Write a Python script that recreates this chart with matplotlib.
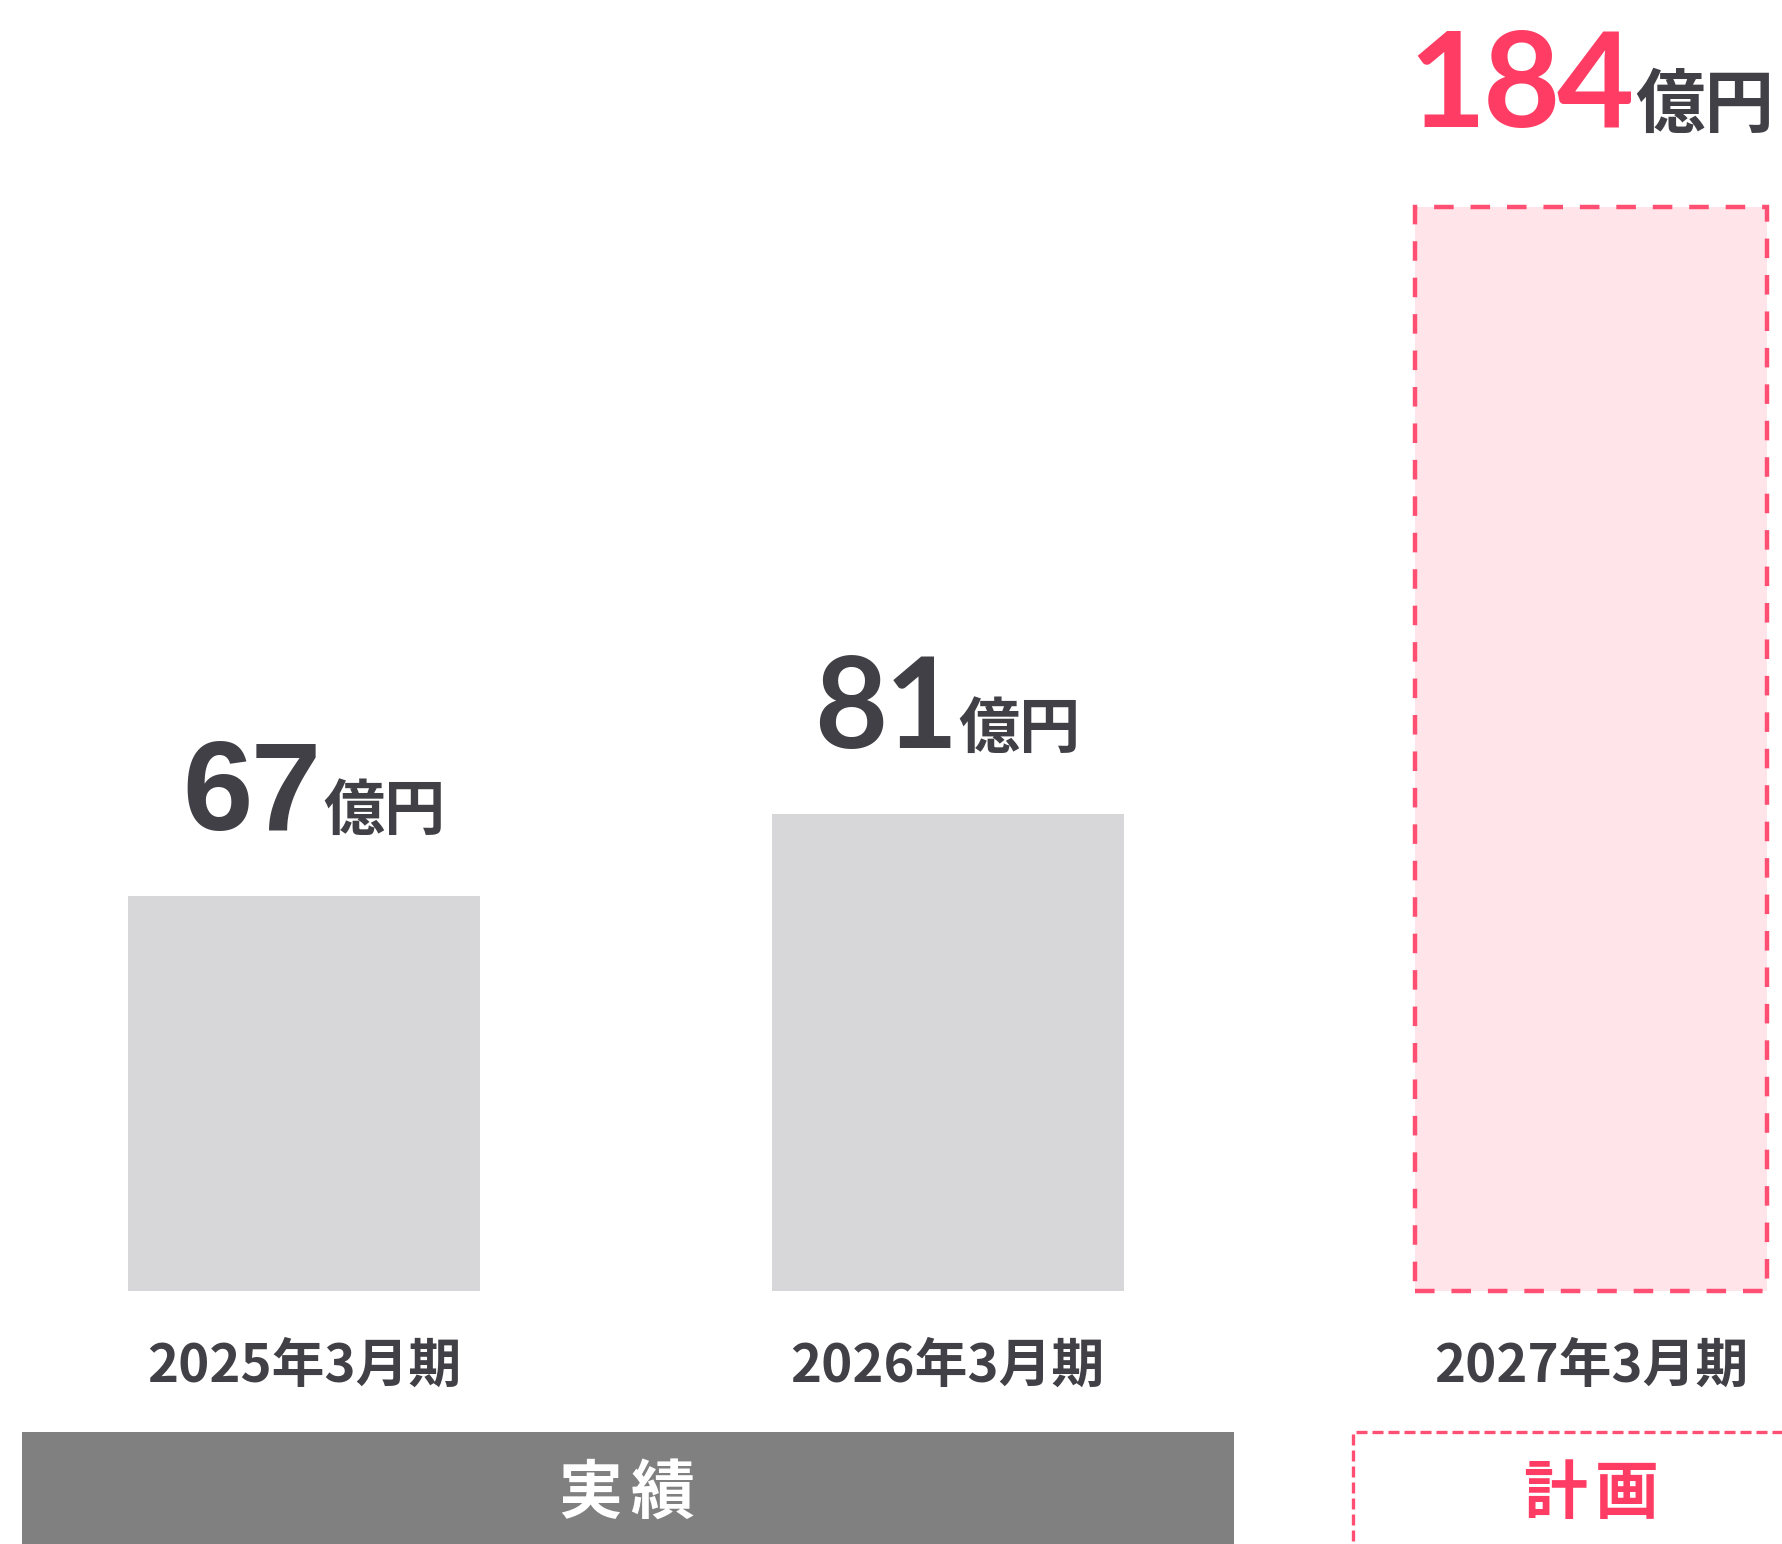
import matplotlib
matplotlib.use("Agg")
import matplotlib.pyplot as plt
from matplotlib.patches import Rectangle

plt.rcParams['font.family'] = ['Noto Sans CJK JP', 'DejaVu Sans']

# data
periods = ["2025年3月期", "2026年3月期", "2027年3月期"]
values = [67, 81, 184]
is_plan = [False, False, True]
unit = "億円"
groups = [("実績", 0, 1, False), ("計画", 2, 2, True)]

DARK = "#414046"
PINK = "#FF3D64"
PINK_LINE = "#FF4F73"
PINK_FILL = "#FFE5EA"
BAR_GREY = "#D7D7D9"
BAND_GREY = "#808080"

W, H, DPI = 1782, 1544, 100
fig = plt.figure(figsize=(W / DPI, H / DPI), dpi=DPI)
ax = fig.add_axes([0, 0, 1, 1])
ax.set_axis_off()

# layout in pixels: first bar centre, bar pitch, zero line, px per 億円
x0_px, step_px = 304, 643.5
base_px, ppu = 1291, 5.89
ax.set_xlim(-x0_px / step_px, (W - x0_px) / step_px)
ax.set_ylim(-(H - base_px) / ppu, base_px / ppu)

bar_w = 352 / step_px

for i, (v, plan) in enumerate(zip(values, is_plan)):
    if plan:
        ax.bar(i, v, width=bar_w, color=PINK_FILL, edgecolor=PINK_LINE,
               linewidth=3.2, linestyle=(0, (4.4, 3.8)))
    else:
        ax.bar(i, v, width=bar_w, color=BAR_GREY, linewidth=0)

    ax.annotate(periods[i], xy=(i, 0), xytext=(0, -91), textcoords="offset pixels",
                ha="center", va="baseline", fontsize=38, fontweight="bold", color=DARK)

# value labels: number + unit, centred as a group over the bar
fig.canvas.draw()
r = fig.canvas.get_renderer()
num_fonts = ["Liberation Sans", "Lato", "Lato"]
tracking = [-2, -3, -3]
shift = [10, 0, 0]  # the first label sits a little right of centre
for i, (v, plan) in enumerate(zip(values, is_plan)):
    off = 80 if plan else 66
    parts = []
    for ch in str(v):
        t = ax.annotate(ch, xy=(i, v), xytext=(0, off), textcoords="offset pixels",
                        ha="left", va="baseline", fontsize=96 if plan else 91,
                        fontweight="bold", family=[num_fonts[i], "DejaVu Sans"],
                        color=PINK if plan else DARK)
        parts.append((t, t.get_window_extent(r).width + tracking[i]))
    tu = ax.annotate(unit, xy=(i, v), xytext=(0, off), textcoords="offset pixels",
                     ha="left", va="baseline", fontsize=50 if plan else 44,
                     fontweight="bold", color=DARK)
    parts.append((tu, tu.get_window_extent(r).width))
    gap = 4
    total = sum(w for _, w in parts) + gap
    dx = -total / 2 + shift[i]
    for k, (t, w) in enumerate(parts):
        if k == len(parts) - 1:
            dx += gap
        t.xyann = (dx, off)
        dx += w

# group headers under the periods
band_top = -141 / ppu
band_bot = ax.get_ylim()[0] - 5
for name, i0, i1, plan in groups:
    if plan:
        left = i0 - 0.5 + 0.13
        right = i1 + 0.5 + 0.3
        ax.add_patch(Rectangle((left, band_bot), right - left, band_top - band_bot,
                               fill=False, edgecolor=PINK_LINE, linewidth=2.4,
                               linestyle=(0, (3.3, 1.5)), clip_on=False))
        cx, col = (i0 + i1) / 2, PINK
    else:
        left = i0 - 0.5 + 0.062
        right = i1 + 0.5 - 0.055
        ax.add_patch(Rectangle((left, band_bot), right - left, band_top - band_bot,
                               facecolor=BAND_GREY, edgecolor="none"))
        cx, col = (i0 + i1) / 2, "white"
    # letter-spaced header
    n = len(name)
    for k, ch in enumerate(name):
        dx = (k - (n - 1) / 2) * 72
        ax.annotate(ch, xy=(cx, 0), xytext=(dx, -222), textcoords="offset pixels",
                    ha="center", va="baseline", fontsize=46, fontweight="bold", color=col)

fig.savefig("out.png", dpi=DPI)
